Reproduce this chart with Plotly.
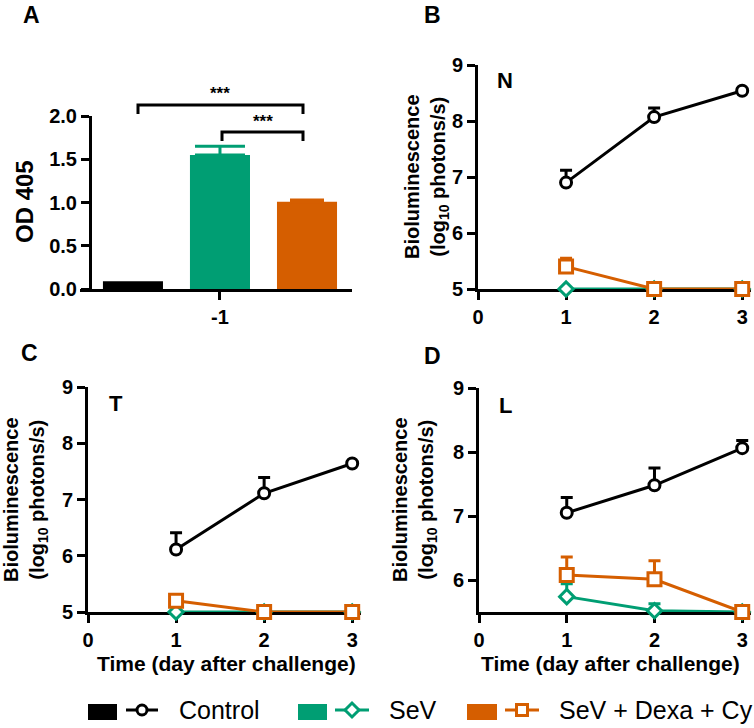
import plotly.graph_objects as go

W, H = 754, 728

# ---------------- data ----------------
groups = ["Control", "SeV", "SeV + Dexa + Cy"]
colors = ["#000000", "#009E73", "#D55E00"]
symbols = ["circle", "diamond", "square"]

# Panel A (OD 405, day -1)
a_category = ["-1"]
a_values = [0.09, 1.55, 1.01]
a_errors = [0.0, 0.10, 0.02]

days = [1, 2, 3]
x_ticks = [0, 1, 2, 3]

# Panel B (N)
b_control = [6.90, 8.07, 8.54]
b_control_err = [0.22, 0.16, 0.03]
b_sev = [5.0, 5.0, 5.0]
b_sev_err = [0.0, 0.0, 0.0]
b_dexa = [5.40, 5.0, 5.0]
b_dexa_err = [0.15, 0.0, 0.0]

# Panel C (T)
c_control = [6.11, 7.11, 7.64]
c_control_err = [0.30, 0.28, 0.03]
c_sev = [5.0, 5.0, 5.0]
c_sev_err = [0.0, 0.0, 0.0]
c_dexa = [5.20, 5.0, 5.0]
c_dexa_err = [0.02, 0.0, 0.0]

# Panel D (L)
d_control = [7.05, 7.48, 8.06]
d_control_err = [0.24, 0.27, 0.12]
d_sev = [5.74, 5.52, 5.5]
d_sev_err = [0.20, 0.11, 0.0]
d_dexa = [6.08, 6.01, 5.5]
d_dexa_err = [0.28, 0.29, 0.0]

bio_ticks = [5, 6, 7, 8, 9]
bio_ticks_d = [6, 7, 8, 9]
od_ticks = [0.0, 0.5, 1.0, 1.5, 2.0]

# ---------------- helpers ----------------
def px(p):
    return p / W


def py(p):
    return 1 - p / H


def bold(vals, fmt="{}"):
    return ["<b>" + fmt.format(v) + "</b>" for v in vals]


FONT = "Liberation Sans, Arial, sans-serif"
tickfont = dict(family=FONT, size=20, color="black")

fig = go.Figure()

# Panel A bars
for i in range(3):
    fig.add_trace(go.Bar(
        x=a_category, y=[a_values[i]], name=groups[i],
        marker=dict(color=colors[i], line=dict(width=0)),
        error_y=dict(type="data", array=[a_errors[i]], arrayminus=[0], symmetric=False,
                     color=colors[i], thickness=3, width=25 if i == 1 else 17,
                     visible=a_errors[i] > 0),
        xaxis="x", yaxis="y", showlegend=False, offsetgroup=str(i),
    ))

sizes = {"circle": 11, "diamond": 11, "square": 13}


def add_panel(xa, ya, series):
    for (vals, errs), col, sym, name in zip(series, colors, symbols, groups):
        fig.add_trace(go.Scatter(
            x=days, y=vals, name=name, mode="lines+markers",
            line=dict(color=col, width=3),
            marker=dict(symbol=sym, size=sizes[sym], color="white",
                        line=dict(color=col, width=3)),
            error_y=dict(type="data", array=errs, arrayminus=[0] * len(errs),
                         symmetric=False, color=col, thickness=3, width=6),
            cliponaxis=False, xaxis=xa, yaxis=ya, showlegend=False,
        ))


add_panel("x2", "y2", [(b_control, b_control_err), (b_sev, b_sev_err), (b_dexa, b_dexa_err)])
add_panel("x3", "y3", [(c_control, c_control_err), (c_sev, c_sev_err), (c_dexa, c_dexa_err)])
add_panel("x4", "y4", [(d_control, d_control_err), (d_sev, d_sev_err), (d_dexa, d_dexa_err)])

axis_common = dict(showline=True, linewidth=3, linecolor="black", ticks="outside",
                   ticklen=8, tickwidth=3, tickcolor="black", showgrid=False,
                   zeroline=False, tickfont=tickfont, fixedrange=True, automargin=False)

xt = dict(tickvals=x_ticks, ticktext=bold(x_ticks))

layout = dict(
    width=W, height=H, margin=dict(l=0, r=0, t=0, b=0, pad=0), autosize=False,
    paper_bgcolor="white", plot_bgcolor="white",
    barmode="group", bargap=0.033, bargroupgap=0.31,
    showlegend=False,
    xaxis=dict(domain=[px(80), px(352)], range=[-0.5185, 0.489], type="category",
               anchor="y", tickvals=a_category, ticktext=bold(a_category), **axis_common),
    yaxis=dict(domain=[py(289), py(116)], range=[0, 2.0], anchor="free", position=px(90),
               tickvals=od_ticks, ticktext=bold(od_ticks, "{:.1f}"), **axis_common),
    xaxis2=dict(domain=[px(478), px(751)], range=[0, 3.1], anchor="y2",
                layer="below traces", **xt, **axis_common),
    yaxis2=dict(domain=[py(289), py(65)], range=[5, 9], anchor="x2", tickvals=bio_ticks,
                ticktext=bold(bio_ticks), layer="below traces", **axis_common),
    xaxis3=dict(domain=[px(88), px(361)], range=[0, 3.1], anchor="y3",
                layer="below traces", **xt, **axis_common),
    yaxis3=dict(domain=[py(612), py(387)], range=[5, 9], anchor="x3", tickvals=bio_ticks,
                ticktext=bold(bio_ticks), layer="below traces", **axis_common),
    xaxis4=dict(domain=[px(479), px(751)], range=[0, 3.1], anchor="y4",
                layer="below traces", **xt, **axis_common),
    yaxis4=dict(domain=[py(612), py(388)], range=[5.5, 9], anchor="x4", tickvals=bio_ticks_d,
                ticktext=bold(bio_ticks_d), layer="below traces", **axis_common),
)
fig.update_layout(**layout)

ann = []


def text(x, y, t, size, weight="bold", angle=0, xanchor="center"):
    ann.append(dict(x=px(x), y=py(y), xref="paper", yref="paper", text=t, showarrow=False,
                    xanchor=xanchor, yanchor="middle", textangle=angle,
                    font=dict(family=FONT, size=size, color="black", weight=weight)))


# panel letters
text(31, 15, "A", 23)
text(432, 15, "B", 23)
text(29, 353, "C", 23)
text(432, 356, "D", 23)
# inner labels
text(505, 80, "N", 22)
text(116, 403, "T", 22)
text(505, 405, "L", 22)
# axis titles
text(24, 202, "OD 405", 24, angle=-90)
bio = "Bioluminescence<br>(log<sub>10</sub> photons/s)"
text(426, 177, bio, 20, angle=-90)
text(25, 500, bio, 20, angle=-90)
text(414, 500, bio, 20, angle=-90)
text(226, 663, "Time (day after challenge)", 21)
text(610, 663, "Time (day after challenge)", 21)
# significance stars
text(220, 93, "***", 17)
text(263, 122, "***", 17)

# legend text
legend_y = 710
text(177, legend_y, "Control", 25, weight="normal", xanchor="left")
text(387, legend_y, "SeV", 25, weight="normal", xanchor="left")
text(557, legend_y, "SeV + Dexa + Cy", 25, weight="normal", xanchor="left")

shapes = []


def pline(x0, y0, x1, y1, col="black", w=3):
    shapes.append(dict(type="line", xref="paper", yref="paper", x0=px(x0), y0=py(y0),
                       x1=px(x1), y1=py(y1), line=dict(color=col, width=w)))


def bracket(x0, x1, ytop, ybot):
    shapes.append(dict(type="path", xref="paper", yref="paper",
                       path=f"M{px(x0)},{py(ybot)} L{px(x0)},{py(ytop)} L{px(x1)},{py(ytop)} L{px(x1)},{py(ybot)}",
                       line=dict(color="black", width=3)))


bracket(138, 303, 105, 114)
bracket(222, 303, 132, 141)

# legend swatches
legend_items = [(88, 117, 126, 158), (298, 327, 335, 369), (467, 497, 505, 539)]
for (s0, s1, l0, l1), col, sym in zip(legend_items, colors, symbols):
    shapes.append(dict(type="rect", xref="paper", yref="paper", x0=px(s0), x1=px(s1),
                       y0=py(720), y1=py(704), fillcolor=col, line=dict(width=0)))
    pline(l0, legend_y, l1, legend_y, col)
    cx = (l0 + l1) / 2
    if sym == "circle":
        r = 5
        shapes.append(dict(type="circle", xref="paper", yref="paper", x0=px(cx - r), x1=px(cx + r),
                           y0=py(legend_y + r), y1=py(legend_y - r), fillcolor="white",
                           line=dict(color=col, width=3)))
    elif sym == "diamond":
        r = 7
        path = (f"M{px(cx - r)},{py(legend_y)} L{px(cx)},{py(legend_y - r)} "
                f"L{px(cx + r)},{py(legend_y)} L{px(cx)},{py(legend_y + r)} Z")
        shapes.append(dict(type="path", xref="paper", yref="paper", path=path,
                           fillcolor="white", line=dict(color=col, width=3)))
    else:
        r = 5.5
        shapes.append(dict(type="rect", xref="paper", yref="paper", x0=px(cx - r), x1=px(cx + r),
                           y0=py(legend_y + r), y1=py(legend_y - r), fillcolor="white",
                           line=dict(color=col, width=3)))

fig.update_layout(annotations=ann, shapes=shapes)
fig.write_html("out.html", config={"displayModeBar": False},
               post_script="document.body.style.margin='0';document.body.style.overflow='hidden';")
